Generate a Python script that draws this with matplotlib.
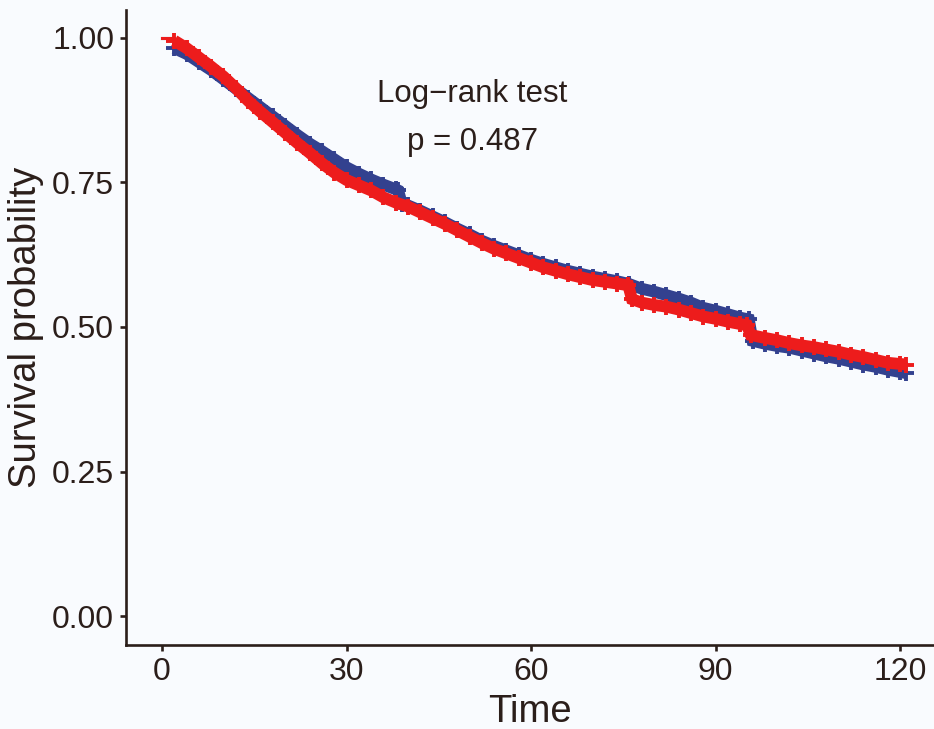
import matplotlib
matplotlib.use("Agg")
import matplotlib.pyplot as plt

# survival estimates (roughly every 2 months,
# with extra readings on both sides of the sharp drops)
months_blue = [2, 4, 6, 8, 10, 12, 14, 16, 18, 20, 22, 24, 26, 28, 30, 32, 34, 36, 38, 38.4,
               39, 40, 42, 44, 46, 48, 50, 52, 54, 56, 58, 60, 62, 64, 66, 68, 70, 72, 74, 76,
               78, 80, 82, 84, 86, 88, 90, 92, 94, 95.4, 96, 98, 100, 102, 104, 106, 108, 110,
               112, 114, 116, 118, 120, 121]
surv_blue = [0.982, 0.972, 0.958, 0.944, 0.928, 0.912, 0.896, 0.880, 0.864, 0.848,
             0.832, 0.817, 0.804, 0.790, 0.776, 0.765, 0.755, 0.746, 0.738, 0.736,
             0.712, 0.710, 0.701, 0.691, 0.681, 0.670, 0.660, 0.649, 0.640, 0.632,
             0.624, 0.616, 0.609, 0.603, 0.597, 0.592, 0.587, 0.583, 0.579, 0.574,
             0.566, 0.561, 0.555, 0.549, 0.542, 0.533, 0.528, 0.522, 0.516, 0.513,
             0.476, 0.471, 0.467, 0.464, 0.459, 0.454, 0.449, 0.445, 0.440, 0.435,
             0.431, 0.426, 0.422, 0.420]

months_red = [2, 4, 6, 8, 10, 12, 14, 16, 18, 20, 22, 24, 26, 28, 30, 32, 34, 36, 38, 40,
              42, 44, 46, 48, 50, 52, 54, 56, 58, 60, 62, 64, 66, 68, 70, 72, 74, 75.8, 76.4,
              78, 80, 82, 84, 86, 88, 90, 92, 94, 95.1, 95.7, 98, 100, 102, 104, 106, 108,
              110, 112, 114, 116, 118, 120, 121]
surv_red = [0.995, 0.982, 0.966, 0.950, 0.933, 0.913, 0.891, 0.872, 0.854, 0.836,
            0.818, 0.801, 0.783, 0.767, 0.754, 0.745, 0.736, 0.724, 0.715, 0.708,
            0.698, 0.688, 0.678, 0.667, 0.656, 0.645, 0.635, 0.627, 0.619, 0.611,
            0.603, 0.597, 0.591, 0.586, 0.581, 0.578, 0.575, 0.572, 0.548,
            0.542, 0.538, 0.535, 0.530, 0.524, 0.518, 0.514, 0.509, 0.505, 0.503,
            0.486, 0.481, 0.477, 0.472, 0.468, 0.465, 0.461,
            0.457, 0.452, 0.448, 0.443, 0.438, 0.436, 0.435]

x_ticks = [0, 30, 60, 90, 120]
y_ticks = [0.0, 0.25, 0.5, 0.75, 1.0]
y_ticklabels = ["0.00", "0.25", "0.50", "0.75", "1.00"]

bg = "#F9FBFE"
ink = "#2B1E1A"
col_blue = "#33418F"
col_red = "#ED1C1C"

plt.rcParams["font.family"] = ["Liberation Sans", "DejaVu Sans"]

fig = plt.figure(figsize=(9.34, 7.29), dpi=100, facecolor=bg)
ax = fig.add_axes([0.1349, 0.1152, 0.8651, 0.8711], facecolor=bg)

for t, surv, col in [(months_blue, surv_blue, col_blue), (months_red, surv_red, col_red)]:
    # thin step at the start (time 0, everyone alive)
    ax.step([0, t[0]], [1.0, 1.0], where="post", color=col, lw=2.2)
    # dense censoring marks merge into a thick band
    ax.plot(t, surv, color=col, lw=8.5, solid_capstyle="butt",
            solid_joinstyle="miter")
    ax.plot(t, surv, ls="none", marker="+", ms=12, mew=2.8, color=col)

ax.text(50.5, 0.903, "Log\u2212rank test", ha="center", va="center", fontsize=22.5, color=ink)
ax.text(50.5, 0.820, "p = 0.487", ha="center", va="center", fontsize=22.5, color=ink)

ax.set_xlim(-5.85, 125.5)
ax.set_ylim(-0.05, 1.048)
ax.set_xticks(x_ticks)
ax.set_yticks(y_ticks)
ax.set_yticklabels(y_ticklabels)

for side in ["top", "right"]:
    ax.spines[side].set_visible(False)
for side in ["left", "bottom"]:
    ax.spines[side].set_linewidth(1.9)
    ax.spines[side].set_color(ink)
ax.tick_params(length=4.5, width=1.9, color=ink, labelsize=23, labelcolor=ink, pad=4)

ax.set_xlabel("Time", fontsize=27.5, color=ink, labelpad=5)
ax.set_ylabel("Survival probability", fontsize=27.5, color=ink, labelpad=6)

fig.savefig("out.png", dpi=100, facecolor=bg)
